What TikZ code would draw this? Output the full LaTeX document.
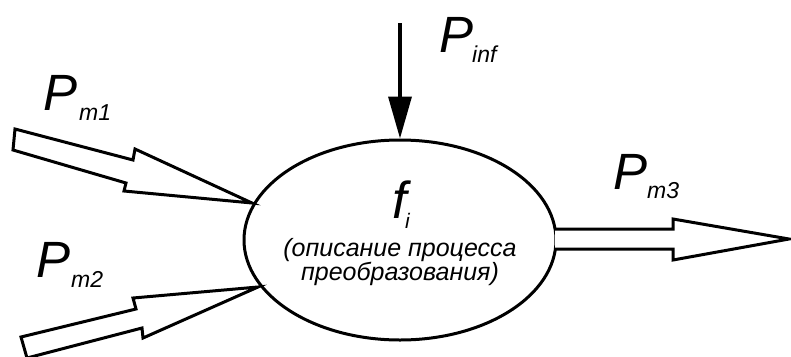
\documentclass[tikz,border=0pt]{standalone}
\usepackage{fontspec}
\setmainfont{Liberation Sans}
\usetikzlibrary{arrows.meta,shapes.geometric}
\begin{document}
\begin{tikzpicture}[x=1pt,y=-1pt,
  outline/.style={line width=3pt,line join=miter,draw=black},
  bigP/.style={font=\fontsize{51}{51}\selectfont\itshape,inner sep=0pt,anchor=base west},
  subP/.style={font=\fontsize{23}{23}\selectfont\itshape,inner sep=0pt,anchor=base west},
  desc/.style={font=\fontsize{25}{25}\selectfont\itshape,inner sep=0pt,align=center}]
\useasboundingbox (0,0) rectangle (791,356);
% process ellipse
\node[ellipse,outline,minimum width=312pt,minimum height=200pt,inner sep=0pt] (f) at (400,240) {};
\node[font=\fontsize{52}{52}\selectfont\itshape,inner sep=0pt,anchor=base west] (fl) at (392,218) {f};
\node[subP,font=\fontsize{21}{21}\selectfont\itshape] (fsub) at (405,228) {i};
\node[desc,anchor=base] (d1) at (400,256) {(описание процесса};
\node[desc,anchor=base] (d2) at (400,280) {преобразования)};
% information input
\coordinate (inftop) at (400,23);
\draw[line width=3.5pt,-{Triangle[width=23pt,length=42pt]}] (inftop) -- (f.north);
\node[bigP] (Pinf) at (439,52) {P};
\node[subP] (Pinfs) at (472,62) {inf};
% material input 1
\coordinate (t1) at (252,203);
\draw[outline,fill=white] (15,129) -- (133,160) -- (135,149) -- (t1) -- (124,191) -- (126,183) -- (13,150) -- cycle;
\node[bigP] (Pm1) at (43,110) {P};
\node[subP] (Pm1s) at (79,120) {m1};
% material input 2
\coordinate (t2) at (258,287);
\draw[outline,fill=white] (t2) -- (133,298) -- (136,309) -- (21,337) -- (27,358) -- (142,328) -- (143,338) -- cycle;
\node[bigP] (Pm2) at (36,277) {P};
\node[subP] (Pm2s) at (71,287) {m2};
% material output 3
\coordinate (s3) at (555,229);
\coordinate (t3) at (789,239);
\draw[outline,fill=white] (s3) -- (673,229) -- (673,219) -- (t3) -- (673,260) -- (673,249) -- (555,249);
\node[bigP] (Pm3) at (613,189) {P};
\node[subP] (Pm3s) at (647,198) {m3};
\end{tikzpicture}
\end{document}
